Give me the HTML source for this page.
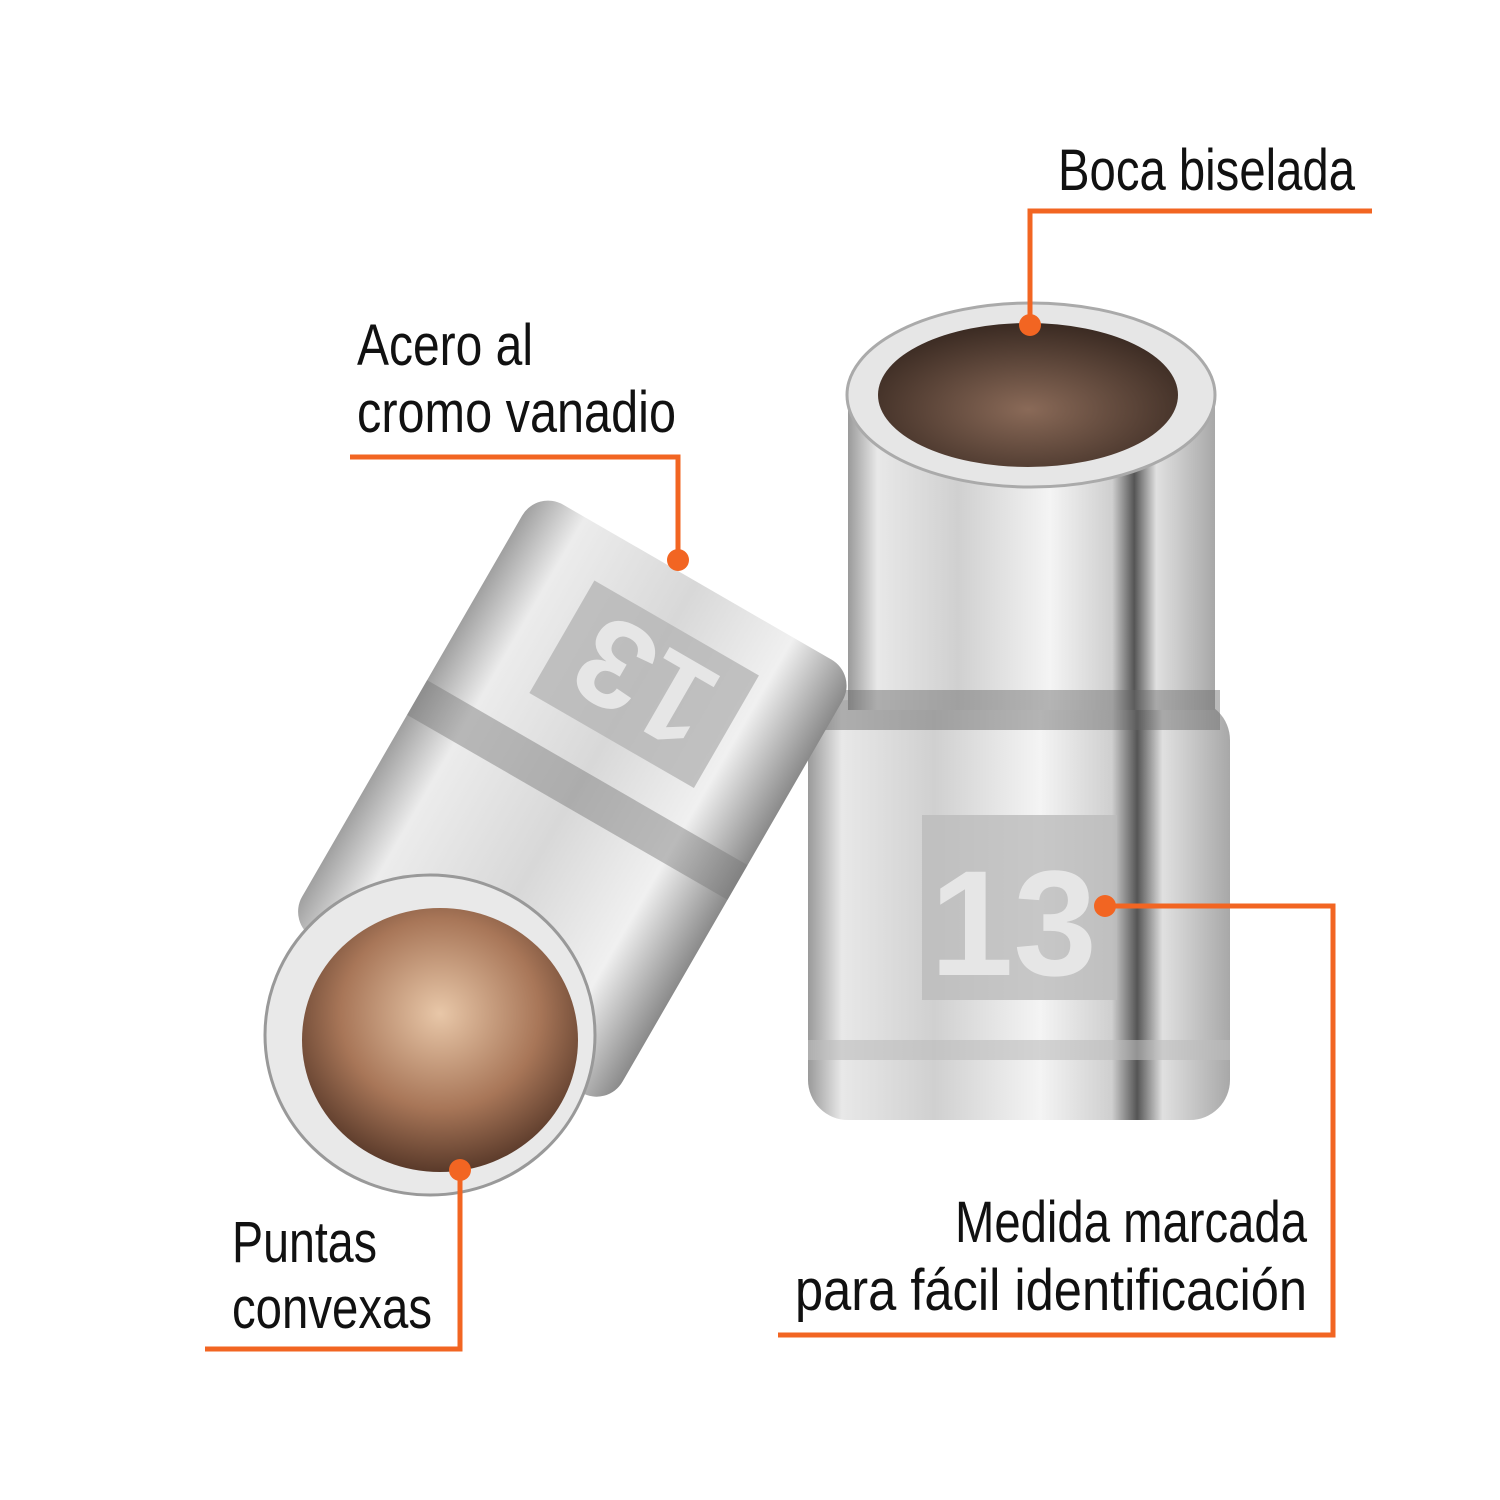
<!DOCTYPE html>
<html><head><meta charset="utf-8"><style>
html,body{margin:0;padding:0;background:#fff;}
svg{display:block}
text{font-family:"Liberation Sans Narrow","Liberation Sans",sans-serif;fill:#111;font-size:58px;}
</style></head><body>
<svg width="1500" height="1500" viewBox="0 0 1500 1500" xmlns="http://www.w3.org/2000/svg">
<defs>
<linearGradient id="chrome" x1="0" y1="0" x2="1" y2="0">
<stop offset="0" stop-color="#9a9a9a"/><stop offset="0.08" stop-color="#e8e8e8"/>
<stop offset="0.3" stop-color="#d0d0d0"/><stop offset="0.55" stop-color="#f4f4f4"/>
<stop offset="0.72" stop-color="#cfcfcf"/><stop offset="0.78" stop-color="#555"/>
<stop offset="0.84" stop-color="#e0e0e0"/><stop offset="1" stop-color="#a8a8a8"/>
</linearGradient>
<linearGradient id="chrome2" x1="0" y1="0" x2="1" y2="0">
<stop offset="0" stop-color="#a0a0a0"/><stop offset="0.15" stop-color="#ececec"/>
<stop offset="0.5" stop-color="#d8d8d8"/><stop offset="0.8" stop-color="#f0f0f0"/>
<stop offset="1" stop-color="#8a8a8a"/>
</linearGradient>
<radialGradient id="copper" cx="0.5" cy="0.4" r="0.6">
<stop offset="0" stop-color="#e8c7a8"/><stop offset="0.6" stop-color="#a87658"/><stop offset="1" stop-color="#5a3a2a"/>
</radialGradient>
<radialGradient id="dark" cx="0.5" cy="0.6" r="0.6">
<stop offset="0" stop-color="#8a6a58"/><stop offset="1" stop-color="#3a2a22"/>
</radialGradient>
</defs>

<!-- Right socket -->
<rect x="808" y="700" width="422" height="420" rx="40" fill="url(#chrome)"/>
<rect x="808" y="1040" width="422" height="20" fill="#bdbdbd" opacity="0.6"/>
<rect x="848" y="400" width="367" height="310" fill="url(#chrome)"/>
<rect x="820" y="690" width="400" height="40" fill="#666" opacity="0.45"/>
<ellipse cx="1031" cy="395" rx="184" ry="92" fill="#e6e6e6" stroke="#aaa" stroke-width="3"/>
<ellipse cx="1028" cy="395" rx="150" ry="72" fill="url(#dark)"/>
<rect x="922" y="815" width="195" height="185" fill="#bcbcbc" opacity="0.8"/>
<text x="930" y="975" style="font-size:150px;font-weight:bold;fill:#e6e6e6">13</text>

<!-- Left socket -->
<g transform="rotate(30 560 780)">
<rect x="395" y="540" width="370" height="500" rx="30" fill="url(#chrome2)"/>
<rect x="395" y="760" width="370" height="40" fill="#777" opacity="0.45"/>
<rect x="490" y="590" width="190" height="130" fill="#b5b5b5" opacity="0.8"/>
<text x="585" y="700" text-anchor="middle" transform="rotate(180 585 655)" style="font-size:125px;font-weight:bold;fill:#e6e6e6">13</text>
</g>
<ellipse cx="430" cy="1035" rx="165" ry="160" fill="#e9e9e9" stroke="#999" stroke-width="3"/>
<ellipse cx="440" cy="1040" rx="138" ry="132" fill="url(#copper)"/>

<!-- callouts -->
<g stroke="#f26522" stroke-width="5" fill="none">
<polyline points="1372,211 1030,211 1030,325"/>
<polyline points="350,457 678,457 678,560"/>
<polyline points="205,1349 460,1349 460,1170"/>
<polyline points="778,1335 1333,1335 1333,906 1105,906"/>
</g>
<g fill="#f26522">
<circle cx="1030" cy="325" r="11"/><circle cx="678" cy="560" r="11"/>
<circle cx="460" cy="1170" r="11"/><circle cx="1105" cy="906" r="11"/>
</g>

<text x="1058" y="190" textLength="297" lengthAdjust="spacingAndGlyphs">Boca biselada</text>
<text x="357" y="365" textLength="176" lengthAdjust="spacingAndGlyphs">Acero al</text>
<text x="357" y="432" textLength="319" lengthAdjust="spacingAndGlyphs">cromo vanadio</text>
<text x="232" y="1262" textLength="145" lengthAdjust="spacingAndGlyphs">Puntas</text>
<text x="232" y="1328" textLength="200" lengthAdjust="spacingAndGlyphs">convexas</text>
<text x="955" y="1242" textLength="352" lengthAdjust="spacingAndGlyphs">Medida marcada</text>
<text x="795" y="1310" textLength="512" lengthAdjust="spacingAndGlyphs">para fácil identificación</text>
</svg>
</body></html>
